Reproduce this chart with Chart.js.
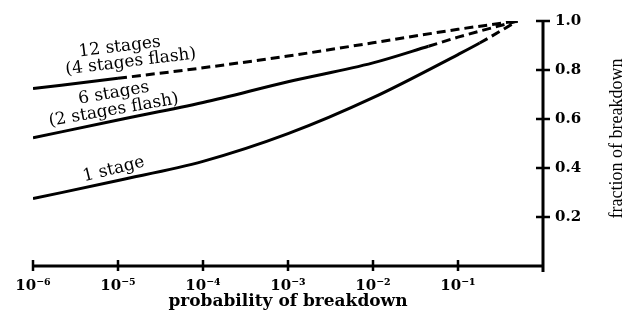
<!DOCTYPE html>
<html>
<head>
<meta charset="utf-8">
<script src="https://cdn.jsdelivr.net/npm/chart.js@4/dist/chart.umd.min.js"></script>
<style>
  body { margin: 0; background: #fff; }
  #wrap { width: 635px; height: 322px; }
</style>
</head>
<body>
<div id="wrap"><canvas id="chart"></canvas></div>
<script>
// axis ticks
const xTicks = [1e-6, 1e-5, 1e-4, 1e-3, 1e-2, 1e-1, 1];
const xTickLabels = ['10⁻⁶', '10⁻⁵', '10⁻⁴', '10⁻³', '10⁻²', '10⁻¹', ''];
const yTicks = [0.2, 0.4, 0.6, 0.8, 1.0];

// 12 stages (4 stages flash)
const p12 = [1e-6, 1e-5, 1e-4, 1e-3, 1e-2, 1e-1, 0.5];
const f12 = [0.724, 0.766, 0.809, 0.857, 0.911, 0.966, 1.0];
// 6 stages (2 stages flash)
const p6 = [1e-6, 1e-5, 1e-4, 1e-3, 1e-2, 0.045, 1e-1, 0.5];
const f6 = [0.523, 0.596, 0.667, 0.752, 0.829, 0.897, 0.934, 1.0];
// 1 stage
const p1 = [1e-6, 1e-5, 1e-4, 1e-3, 1e-2, 1e-1, 0.18, 0.5];
const f1 = [0.275, 0.349, 0.427, 0.540, 0.687, 0.863, 0.910, 1.0];

// where each curve turns dashed
const dashFrom = [1e-5, 0.045, 0.18];

const curveLabels = [
  { text: '12 stages', logP: -4.98, f: 0.894, angle: -7 },
  { text: '(4 stages flash)', logP: -4.85, f: 0.833, angle: -7 },
  { text: '6 stages', logP: -5.05, f: 0.705, angle: -10 },
  { text: '(2 stages flash)', logP: -5.05, f: 0.636, angle: -10 },
  { text: '1 stage', logP: -5.05, f: 0.394, angle: -14 }
];

const toPoints = (p, f) => p.map((x, i) => ({ x: x, y: f[i] }));

function curve(p, f, from) {
  return {
    data: toPoints(p, f),
    borderColor: '#000',
    borderWidth: 3,
    pointRadius: 0,
    fill: false,
    cubicInterpolationMode: 'monotone',
    segment: {
      borderDash: ctx => ctx.p0.parsed.x >= from ? [9, 5] : undefined
    }
  };
}

const axisMarks = {
  id: 'axisMarks',
  afterDraw(chart) {
    const { ctx, chartArea, scales } = chart;
    const x = scales.x, y = scales.y;
    const bottom = chartArea.bottom, right = chartArea.right;
    ctx.save();
    ctx.strokeStyle = '#000';
    ctx.lineWidth = 3;
    ctx.beginPath();
    ctx.moveTo(x.getPixelForValue(xTicks[0]), bottom);
    ctx.lineTo(right, bottom);
    ctx.moveTo(right, chartArea.top - 1);
    ctx.lineTo(right, bottom + 6);
    ctx.stroke();

    ctx.lineWidth = 2.5;
    ctx.beginPath();
    xTicks.slice(0, -1).forEach(v => {
      const px = x.getPixelForValue(v);
      ctx.moveTo(px, bottom - 6);
      ctx.lineTo(px, bottom + 5);
    });
    yTicks.forEach(v => {
      const py = y.getPixelForValue(v);
      ctx.moveTo(right - 7, py);
      ctx.lineTo(right + 7, py);
    });
    ctx.stroke();

    // y title, reading bottom to top
    ctx.fillStyle = '#000';
    ctx.font = '18px "Liberation Serif"';
    ctx.textAlign = 'center';
    ctx.textBaseline = 'middle';
    ctx.translate(right + 74, (chartArea.top + bottom) / 2 - 5);
    ctx.rotate(-Math.PI / 2);
    ctx.fillText('fraction of breakdown', 0, 0);
    ctx.restore();

    // curve labels
    ctx.save();
    ctx.fillStyle = '#000';
    ctx.font = '17px "DejaVu Serif"';
    ctx.textAlign = 'center';
    ctx.textBaseline = 'middle';
    curveLabels.forEach(l => {
      ctx.save();
      ctx.translate(x.getPixelForValue(Math.pow(10, l.logP)), y.getPixelForValue(l.f));
      ctx.rotate(l.angle * Math.PI / 180);
      ctx.fillText(l.text, 0, 0);
      ctx.restore();
    });
    ctx.restore();
  }
};

new Chart(document.getElementById('chart'), {
  type: 'line',
  data: {
    datasets: [
      curve(p12, f12, dashFrom[0]),
      curve(p6, f6, dashFrom[1]),
      curve(p1, f1, dashFrom[2])
    ]
  },
  options: {
    responsive: true,
    maintainAspectRatio: false,
    animation: false,
    layout: { padding: { left: 33, top: 14, right: 0, bottom: 0 } },
    plugins: {
      legend: { display: false },
      tooltip: { enabled: false }
    },
    scales: {
      x: {
        type: 'logarithmic',
        min: 1e-6,
        max: 1,
        afterBuildTicks: s => { s.ticks = xTicks.map(v => ({ value: v })); },
        afterFit: s => { s.height = 56; },
        grid: { display: false, drawTicks: false },
        border: { display: false },
        ticks: {
          autoSkip: false,
          maxRotation: 0,
          padding: 11,
          color: '#000',
          font: { family: 'DejaVu Serif', size: 15, weight: 'bold' },
          callback: (v, i) => xTickLabels[i]
        },
        title: {
          display: true,
          text: 'probability of breakdown',
          color: '#000',
          font: { family: 'DejaVu Serif', size: 17, weight: 'bold' },
          padding: { top: 2, bottom: 10 }
        }
      },
      y: {
        position: 'right',
        min: 0,
        max: 1,
        afterBuildTicks: s => { s.ticks = yTicks.map(v => ({ value: v })); },
        afterFit: s => { s.width = 92; },
        grid: { display: false, drawTicks: false },
        border: { display: false },
        ticks: {
          padding: 12,
          color: '#000',
          font: { family: 'DejaVu Serif', size: 15, weight: 'bold' },
          callback: v => v.toFixed(1)
        }
      }
    }
  },
  plugins: [axisMarks]
});
</script>
</body>
</html>
